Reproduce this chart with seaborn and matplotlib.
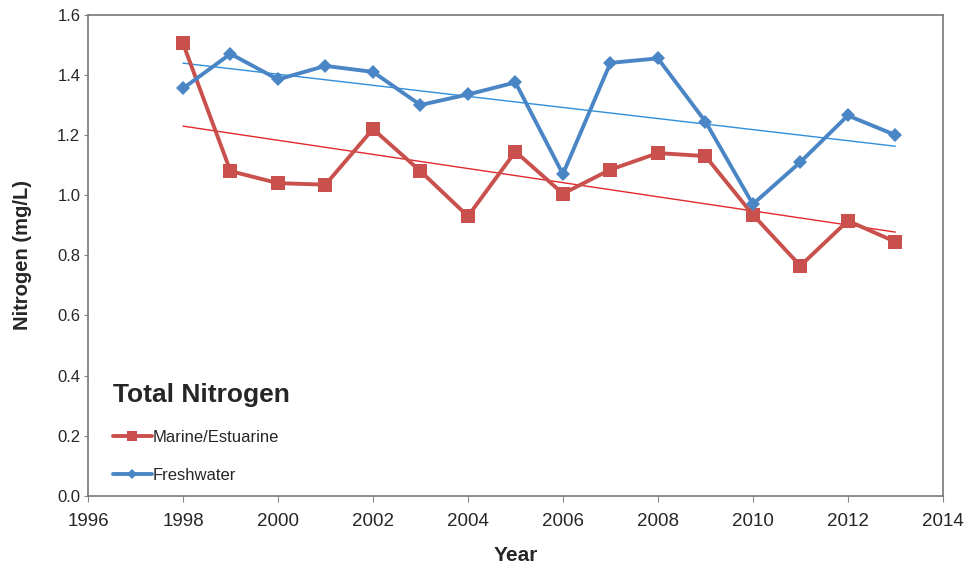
import matplotlib
matplotlib.use("Agg")
import matplotlib.pyplot as plt
import seaborn as sns
import pandas as pd
import numpy as np

# Data
years = list(range(1998, 2014))
marine = [1.505, 1.08, 1.04, 1.035, 1.22, 1.08, 0.93, 1.145, 1.005, 1.085,
          1.14, 1.13, 0.935, 0.765, 0.915, 0.845]
fresh = [1.355, 1.47, 1.385, 1.43, 1.41, 1.30, 1.335, 1.375, 1.07, 1.44,
         1.455, 1.245, 0.97, 1.11, 1.265, 1.20]

df = pd.DataFrame({"Year": years, "Marine/Estuarine": marine, "Freshwater": fresh})

red = "#c9504c"
blue = "#4a86c5"

sns.set_style("white")
plt.rcParams["font.family"] = ["Liberation Sans", "DejaVu Sans"]

fig = plt.figure(figsize=(9.67, 5.68), dpi=100)
ax = fig.add_axes([0.091, 0.127, 0.884, 0.847])

# linear trend lines
for col, c in [("Marine/Estuarine", "#e0282e"), ("Freshwater", "#2f8fdc")]:
    k, b = np.polyfit(df["Year"], df[col], 1)
    trend = pd.DataFrame({"Year": df["Year"], "t": k * df["Year"] + b})
    sns.lineplot(data=trend, x="Year", y="t", color=c, lw=1.0, ax=ax, legend=False)

sns.lineplot(data=df, x="Year", y="Marine/Estuarine", color=red, lw=2.8,
             marker="s", markersize=9.5, markeredgewidth=0, ax=ax,
             label="Marine/Estuarine")
sns.lineplot(data=df, x="Year", y="Freshwater", color=blue, lw=2.8,
             marker="D", markersize=7, markeredgewidth=0, ax=ax,
             label="Freshwater")

ax.set_xlim(1996, 2014)
ax.set_ylim(0, 1.6)
ax.set_xticks(range(1996, 2015, 2))
ax.set_yticks(np.arange(0, 1.61, 0.2))
ax.set_yticklabels([f"{v:.1f}" for v in np.arange(0, 1.61, 0.2)])
ax.tick_params(axis="both", length=4, color="#888888", direction="out",
               bottom=True, left=True)
ax.tick_params(axis="x", labelsize=13.5, pad=8)
ax.tick_params(axis="y", labelsize=12, length=3, pad=2.5)
for s in ax.spines.values():
    s.set_color("#777777")
    s.set_linewidth(1.2)

ax.set_xlabel("Year", fontsize=15, fontweight="bold", labelpad=12)
ax.set_ylabel("Nitrogen (mg/L)", fontsize=14.5, fontweight="bold", labelpad=18)

leg = ax.legend(title="Total Nitrogen", loc="lower left", bbox_to_anchor=(0.012, -0.005),
                frameon=False, fontsize=12, handlelength=2.3, handletextpad=0.05,
                labelspacing=1.4, alignment="left", markerscale=0.8)
leg.get_title().set_fontsize(19)
leg.get_title().set_fontweight("bold")

fig.savefig("out.png", dpi=100)
